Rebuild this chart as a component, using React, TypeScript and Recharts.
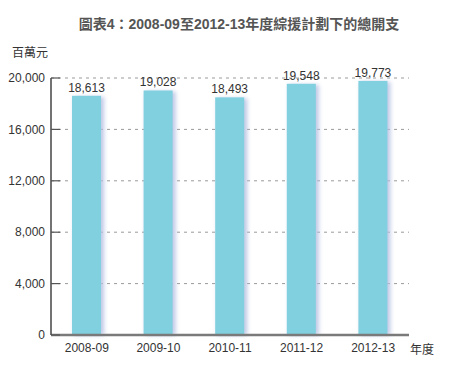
import React from "react";
import { BarChart, Bar, XAxis, YAxis, CartesianGrid, LabelList } from "recharts";

const years = ["2008-09", "2009-10", "2010-11", "2011-12", "2012-13"];
const spending = [18613, 19028, 18493, 19548, 19773];
const yTicks = [0, 4000, 8000, 12000, 16000, 20000];

const data = years.map((year, i) => ({ year, spending: spending[i] }));

const fmt = (v: number) => v.toLocaleString("en-US");

const BarShape = (props: any) => {
  const { x, y, width, height } = props;
  if (!height || height <= 0) return null;
  return (
    <g>
      <defs>
        <filter id="barShadow" x="-30%" y="-10%" width="160%" height="120%">
          <feGaussianBlur stdDeviation="2" />
        </filter>
      </defs>
      <rect
        x={x + 2}
        y={y + 1}
        width={width + 1}
        height={height - 1}
        fill="#b4c0e2"
        opacity={0.85}
        filter="url(#barShadow)"
      />
      <rect x={x} y={y} width={width} height={height} fill="#80d0df" />
    </g>
  );
};

export default function App() {
  return (
    <div
      style={{
        position: "absolute",
        left: 0,
        top: 0,
        width: 462,
        height: 392,
        background: "#fff",
        fontFamily: "Arial, 'Liberation Sans', 'Noto Sans CJK TC', sans-serif",
      }}
    >
      <div
        style={{
          position: "absolute",
          left: 0,
          width: 478,
          top: 13,
          textAlign: "center",
          fontSize: 14,
          fontWeight: "bold",
          color: "#555",
        }}
      >
        圖表4：2008-09至2012-13年度綜援計劃下的總開支
      </div>
      <div style={{ position: "absolute", left: 12, top: 43, fontSize: 12, color: "#333" }}>百萬元</div>
      <div style={{ position: "absolute", left: 410, top: 340, fontSize: 12, color: "#333" }}>年度</div>

      <BarChart
        width={462}
        height={392}
        data={data}
        margin={{ top: 78, right: 53, bottom: 27, left: 6 }}
        barSize={29}
      >
        <CartesianGrid vertical={false} stroke="#9a9a9a" strokeDasharray="3 4" />
        <XAxis
          dataKey="year"
          height={30}
          axisLine={{ stroke: "#7a7a7a", strokeWidth: 2.5 }}
          tickLine={false}
          tick={{ fontSize: 12, fill: "#333" }}
          tickMargin={2}
        />
        <YAxis
          width={45}
          domain={[0, 20000]}
          ticks={yTicks}
          tickFormatter={fmt}
          axisLine={{ stroke: "#444", strokeWidth: 1.5 }}
          tickLine={{ stroke: "#555", strokeWidth: 1.2 }}
          tickSize={-9}
          tickMargin={15}
          tick={{ fontSize: 12, fill: "#333" }}
        />
        <Bar dataKey="spending" shape={BarShape} isAnimationActive={false}>
          <LabelList
            dataKey="spending"
            position="top"
            offset={4}
            formatter={(v: any) => fmt(Number(v))}
            style={{ fontSize: 12, fill: "#333" }}
          />
        </Bar>
      </BarChart>
    </div>
  );
}
